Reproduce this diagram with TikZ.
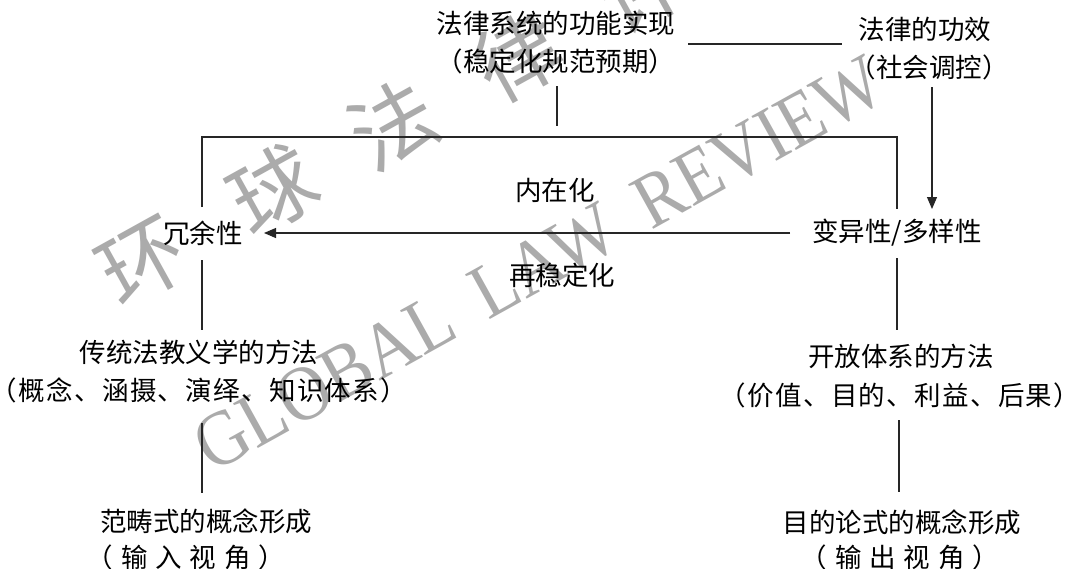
\documentclass[tikz,border=0pt]{standalone}
\usepackage{fontspec}
\setmainfont{Liberation Serif}
\newfontfamily\cjk{Noto Sans CJK SC}
\newfontfamily\cjkA[LetterSpace=5]{Noto Sans CJK SC}
\newfontfamily\cjkB[LetterSpace=30]{Noto Sans CJK SC}
\usetikzlibrary{arrows.meta}
\tikzset{
  lbl/.style={font=\cjk\fontsize{26.5}{30}\selectfont, inner sep=0pt, anchor=center},
  lblA/.style={lbl, font=\cjkA\fontsize{26.5}{30}\selectfont},
  lblB/.style={lbl, font=\cjkB\fontsize{26.5}{30}\selectfont},
  wmcn/.style={text=black!33, inner sep=0pt, rotate=29, font=\cjk\fontsize{85}{85}\selectfont},
  wmla/.style={text=black!33, inner sep=0pt, rotate=29, anchor=base west, font=\fontsize{78}{78}\selectfont},
  conn/.style={line width=1.1pt, draw=black!85},
  arr/.style={conn, -{Triangle[length=12pt,width=10pt]}},
}
\begin{document}
\begin{tikzpicture}[x=1pt,y=-1pt]
\useasboundingbox (0,0) rectangle (1069,568);
\clip (0,0) rectangle (1069,568);
\fill[white] (0,0) rectangle (1069,568);
% watermark
\node[wmcn] (w1) at (143,263) {环};
\node[wmcn] (w2) at (273,190) {球};
\node[wmcn] (w3) at (393,125) {法};
\node[wmcn] (w4) at (518,57) {律};
\node[wmcn] (w5) at (643,-11) {评};
\node[wmla] (wl) at (212,474) {\scalebox{0.9}[1]{GLOBAL\hspace{0.45em}LAW\hspace{0.45em}REVIEW}};
% labels
\node[lbl] (a1) at (556,23) {法律系统的功能实现};
\node[lbl] (a2) at (556,61) {（稳定化规范预期）};
\node[lbl] (b1) at (925,29) {法律的功效};
\node[lbl] (b2) at (929,67) {（社会调控）};
\node[lbl] (red) at (203,233) {冗余性};
\node[lbl] (var) at (897,233) {变异性/多样性};
\node[lbl] (int) at (555,190) {内在化};
\node[lbl] (rest) at (562,275) {再稳定化};
\node[lbl] (c1) at (199,352) {传统法教义学的方法};
\node[lblA] (c2) at (199,390) {（概念、涵摄、演绎、知识体系）};
\node[lbl] (d1) at (206,521) {范畴式的概念形成};
\node[lblB] (d2) at (186,557) {（输入视角）};
\node[lbl] (e1) at (901,356) {开放体系的方法};
\node[lblA] (e2) at (900,395) {（价值、目的、利益、后果）};
\node[lbl] (f1) at (902,522) {目的论式的概念形成};
\node[lblB] (f2) at (900,557) {（输出视角）};
% coordinates
\coordinate (aS) at (557,86);
\coordinate (aE) at (557,126);
\coordinate (abL) at (688,44);
\coordinate (abR) at (842,44);
\coordinate (tl) at (202,137);
\coordinate (tr) at (897,137);
\coordinate (l1) at (202,207);
\coordinate (l2) at (202,260);
\coordinate (l3) at (202,330);
\coordinate (r1) at (897,209);
\coordinate (r2) at (897,258);
\coordinate (r3) at (897,330);
\coordinate (hS) at (790,233);
\coordinate (hE) at (264,233);
\coordinate (bS) at (932,87);
\coordinate (bE) at (932,209);
\coordinate (cS) at (202,423);
\coordinate (cE) at (202,493);
\coordinate (eS) at (899,420);
\coordinate (eE) at (899,492);
% connectors
\draw[conn] (aS) -- (aE);
\draw[conn] (abL) -- (abR);
\draw[conn] (l1) -- (tl) -- (tr) -- (r1);
\draw[conn] (l2) -- (l3);
\draw[conn] (r2) -- (r3);
\draw[arr] (hS) -- (hE);
\draw[arr] (bS) -- (bE);
\draw[conn] (cS) -- (cE);
\draw[conn] (eS) -- (eE);
\end{tikzpicture}
\end{document}
